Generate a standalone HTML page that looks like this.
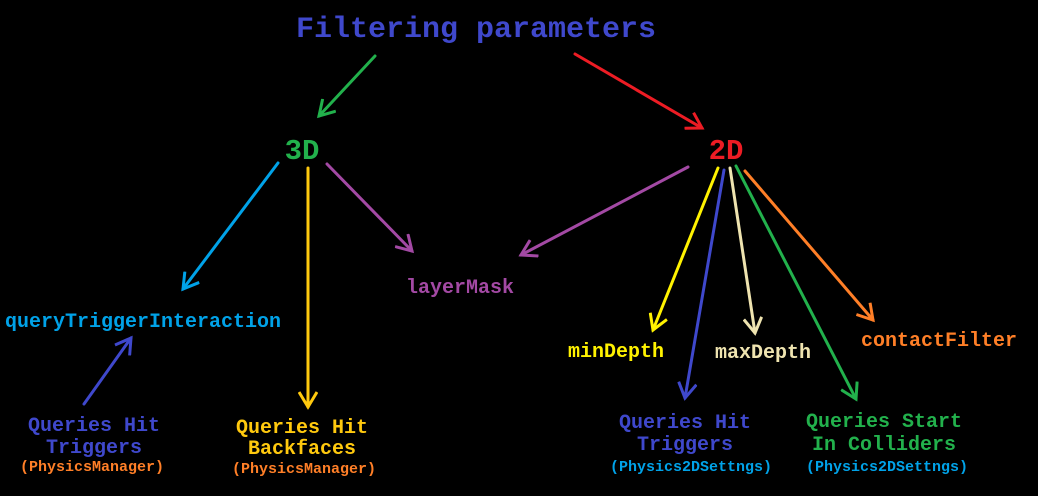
<!DOCTYPE html>
<html><head><meta charset="utf-8"><style>
html,body{margin:0;padding:0;background:#000;}
svg{display:block;}
text{font-family:"Liberation Mono",monospace;font-weight:bold;}
</style></head><body>
<svg width="1038" height="496" viewBox="0 0 1038 496" xmlns="http://www.w3.org/2000/svg">
<defs>
<marker id="m" viewBox="0 0 20 20" refX="17" refY="10" markerWidth="20" markerHeight="20" markerUnits="userSpaceOnUse" orient="auto">
<path d="M2,1 L17,10 L2,19" fill="none" stroke="context-stroke" stroke-width="3"/>
</marker>
</defs>
<g fill="none" stroke-width="3" stroke-linecap="round">
<line x1="375" y1="56" x2="319" y2="116" stroke="#22b14c" marker-end="url(#m)"/>
<line x1="575" y1="54" x2="702" y2="128" stroke="#ed1c24" marker-end="url(#m)"/>
<line x1="278" y1="163" x2="183" y2="289" stroke="#00a2e8" marker-end="url(#m)"/>
<line x1="308" y1="168" x2="308" y2="407" stroke="#ffc90e" marker-end="url(#m)"/>
<line x1="327" y1="164" x2="412" y2="251" stroke="#a349a4" marker-end="url(#m)"/>
<line x1="688" y1="167" x2="521" y2="255" stroke="#a349a4" marker-end="url(#m)"/>
<line x1="84" y1="404" x2="131" y2="338" stroke="#3f48cc" marker-end="url(#m)"/>
<line x1="718" y1="168" x2="653" y2="330" stroke="#fff200" marker-end="url(#m)"/>
<line x1="724" y1="170" x2="685" y2="398" stroke="#3f48cc" marker-end="url(#m)"/>
<line x1="730" y1="168" x2="755" y2="333" stroke="#efe4b0" marker-end="url(#m)"/>
<line x1="736" y1="166" x2="856" y2="399" stroke="#22b14c" marker-end="url(#m)"/>
<line x1="745" y1="171" x2="873" y2="320" stroke="#ff7f27" marker-end="url(#m)"/>
</g>
<text x="476" y="37" font-size="30" fill="#3f48cc" text-anchor="middle">Filtering parameters</text>
<text x="302" y="159" font-size="29" fill="#22b14c" text-anchor="middle">3D</text>
<text x="726" y="159" font-size="29" fill="#ed1c24" text-anchor="middle">2D</text>
<text x="143" y="327" font-size="20" fill="#00a2e8" text-anchor="middle">queryTriggerInteraction</text>
<text x="460" y="293" font-size="20" fill="#a349a4" text-anchor="middle">layerMask</text>
<text x="616" y="357" font-size="20" fill="#fff200" text-anchor="middle">minDepth</text>
<text x="763" y="358" font-size="20" fill="#efe4b0" text-anchor="middle">maxDepth</text>
<text x="939" y="346" font-size="20" fill="#ff7f27" text-anchor="middle">contactFilter</text>
<g text-anchor="middle" font-size="20">
<text x="94" y="431" fill="#3f48cc">Queries Hit</text>
<text x="94" y="453" fill="#3f48cc">Triggers</text>
<text x="92" y="471" font-size="15" fill="#ff7f27">(PhysicsManager)</text>
<text x="302" y="433" fill="#ffc90e">Queries Hit</text>
<text x="302" y="454" fill="#ffc90e">Backfaces</text>
<text x="304" y="473" font-size="15" fill="#ff7f27">(PhysicsManager)</text>
<text x="685" y="428" fill="#3f48cc">Queries Hit</text>
<text x="685" y="450" fill="#3f48cc">Triggers</text>
<text x="691" y="471" font-size="15" fill="#00a2e8">(Physics2DSettngs)</text>
<text x="884" y="427" fill="#22b14c">Queries Start</text>
<text x="884" y="450" fill="#22b14c">In Colliders</text>
<text x="887" y="471" font-size="15" fill="#00a2e8">(Physics2DSettngs)</text>
</g>
</svg>
</body></html>
